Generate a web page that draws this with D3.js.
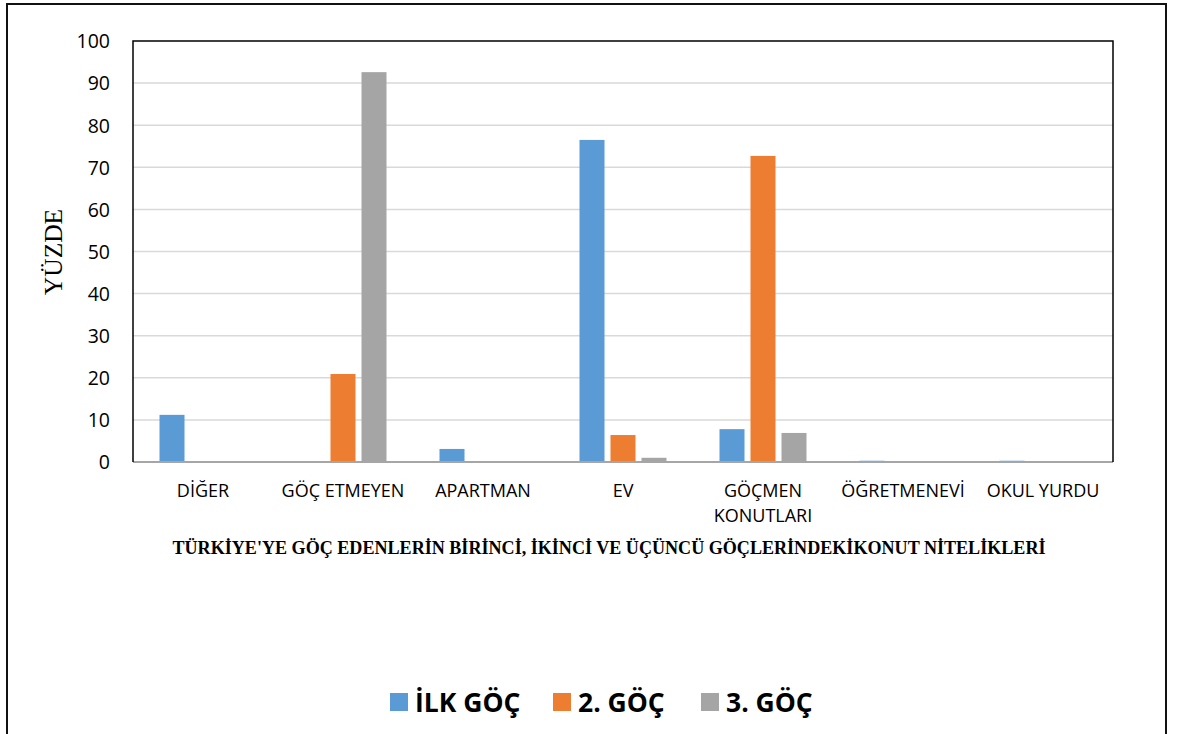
<!DOCTYPE html>
<html><head><meta charset="utf-8">
<script src="https://cdn.jsdelivr.net/npm/d3@7"></script>
<style>body{margin:0;background:#fff}svg{display:block}</style>
</head><body>
<script>
const categories = ["DİĞER","GÖÇ ETMEYEN","APARTMAN","EV","GÖÇMEN KONUTLARI","ÖĞRETMENEVİ","OKUL YURDU"];
const seriesNames = ["İLK GÖÇ","2. GÖÇ","3. GÖÇ"];
const ilkGoc = [11.2, 0, 3.1, 76.5, 7.8, 0.3, 0.3];
const ikinciGoc = [0, 20.9, 0, 6.4, 72.7, 0, 0];
const ucuncuGoc = [0, 92.6, 0, 1.0, 6.9, 0, 0];
const yTicks = [0,10,20,30,40,50,60,70,80,90,100];
const colors = ["#5B9BD5","#ED7D31","#A5A5A5"];
const xTitle = "TÜRKİYE'YE GÖÇ EDENLERİN BİRİNCİ, İKİNCİ VE ÜÇÜNCÜ GÖÇLERİNDEKİKONUT NİTELİKLERİ";
const yTitle = "YÜZDE";

const W=1184,H=734;
const svg=d3.select("body").append("svg").attr("width",W).attr("height",H);
// outer frame
svg.append("path").attr("d","M7,740 V4 H1166 V740").attr("fill","none").attr("stroke","#111").attr("stroke-width",2);

const L=133,R=1113,T=41,B=462;
const x=d3.scaleBand().domain(categories).range([L,R]);
const y=d3.scaleLinear().domain([0,100]).range([B,T]);
const series=[ilkGoc,ikinciGoc,ucuncuGoc];

// gridlines
svg.append("g").selectAll("line").data(yTicks.filter(d=>d>0&&d<100)).join("line")
 .attr("x1",L).attr("x2",R).attr("y1",d=>y(d)).attr("y2",d=>y(d))
 .attr("stroke","#d9d9d9").attr("stroke-width",1.5);

// bars
const barW=25, step=31;
series.forEach((s,si)=>{
  svg.append("g").selectAll("rect").data(s.map((v,i)=>({v,c:categories[i]}))).join("rect")
   .attr("x",d=>x(d.c)+x.bandwidth()/2+(si-1)*step-barW/2)
   .attr("width",barW)
   .attr("y",d=>y(d.v)).attr("height",d=>B-y(d.v))
   .attr("fill",colors[si]);
});

// x axis line
svg.append("line").attr("x1",L).attr("x2",R).attr("y1",B).attr("y2",B).attr("stroke","#a6a6a6").attr("stroke-width",2);
// frame left, top, right
svg.append("path").attr("d",`M${L},${B} V${T} H${R} V${B}`).attr("fill","none").attr("stroke","#000").attr("stroke-width",1.5);

// y axis labels
const yAxis=d3.axisLeft(y).tickValues(yTicks).tickSize(0).tickPadding(23);
const ga=svg.append("g").attr("transform",`translate(${L},0)`).call(yAxis);
ga.select(".domain").remove();
ga.selectAll("text").attr("font-family","'Open Sans', sans-serif").attr("font-size",19.5).attr("fill","#000").attr("dy","0.35em");

// x category labels
const labelLines={"GÖÇMEN KONUTLARI":["GÖÇMEN","KONUTLARI"]};
categories.forEach(c=>{
  const lines=labelLines[c]||[c];
  const t=svg.append("text").attr("x",x(c)+x.bandwidth()/2).attr("y",497)
    .attr("text-anchor","middle").attr("font-family","'Open Sans', sans-serif").attr("font-size",18).attr("fill","#000");
  lines.forEach((l,i)=>t.append("tspan").attr("x",x(c)+x.bandwidth()/2).attr("dy",i?25:0).text(l));
});

// x title
svg.append("text").attr("x",609).attr("y",554).attr("text-anchor","middle")
 .attr("font-family","'Liberation Serif', serif").attr("font-weight","bold").attr("font-size",18.5)
 .attr("textLength",873).attr("lengthAdjust","spacingAndGlyphs").text(xTitle);

// y title
svg.append("text").attr("transform","translate(62,252) rotate(-90)").attr("text-anchor","middle")
 .attr("font-family","'Liberation Serif', serif").attr("font-size",25.5).attr("fill","#000").text(yTitle);

// legend
const legX=[390,553,701];
seriesNames.forEach((n,i)=>{
  svg.append("rect").attr("x",legX[i]).attr("y",693).attr("width",18).attr("height",18).attr("fill",colors[i]);
  svg.append("text").attr("x",legX[i]+25).attr("y",712).attr("font-family","'Open Sans', sans-serif")
   .attr("font-weight","bold").attr("font-size",26.5).attr("fill","#000").text(n);
});
</script>
</body></html>
